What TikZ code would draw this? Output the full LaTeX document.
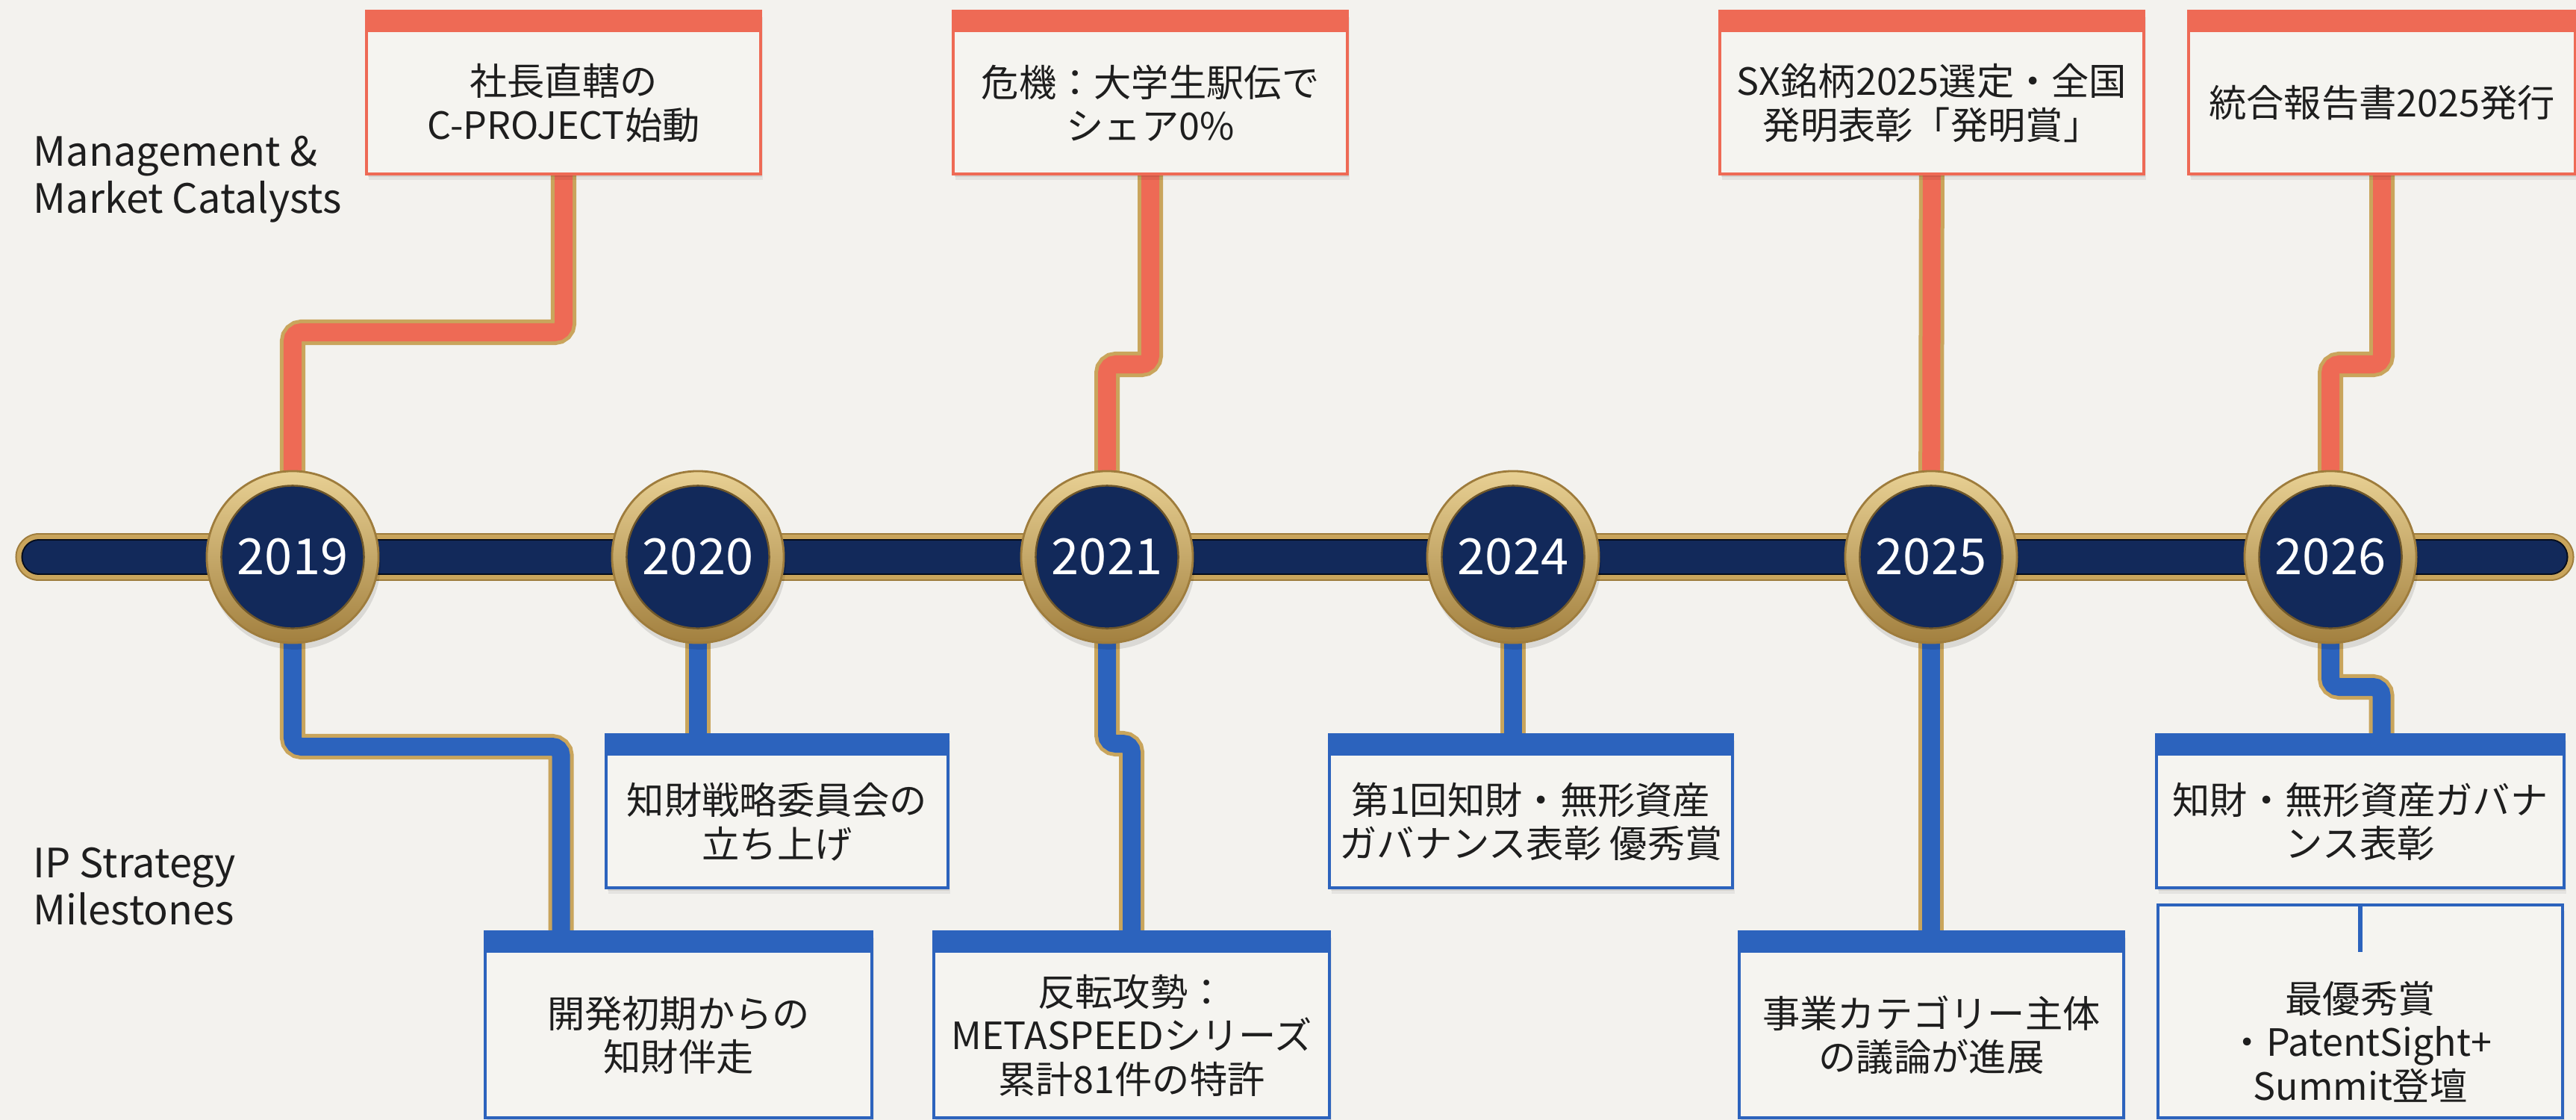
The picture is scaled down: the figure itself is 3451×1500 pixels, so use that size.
\documentclass[tikz,border=0pt]{standalone}
\usepackage{fontspec}
\setmainfont{Noto Sans CJK JP}
\usetikzlibrary{calc,shadows}
\definecolor{bgc}{HTML}{F3F2EE}
\definecolor{boxc}{HTML}{F5F4F0}
\definecolor{redc}{HTML}{EE6A55}
\definecolor{bluec}{HTML}{2C63BD}
\definecolor{navy}{HTML}{12295A}
\definecolor{goldc}{HTML}{C9A55C}
\definecolor{goldlight}{HTML}{E8D093}
\definecolor{golddark}{HTML}{9E7C3C}
\definecolor{textc}{HTML}{1E1E1E}
\pgfdeclarelayer{back}
\pgfdeclarelayer{bg}
\pgfsetlayers{back,bg,main}
\tikzset{
  softshadow/.style={
    general shadow={shadow xshift=0.9pt, shadow yshift=-2.2pt, fill=black, opacity=0.06},
    general shadow={shadow xshift=0.5pt, shadow yshift=-1.1pt, fill=black, opacity=0.08}},
  box/.style={rectangle, fill=boxc, line width=1.3pt, inner sep=0pt, softshadow},
  topbox/.style={box, draw=redc, path picture={\fill[redc] (path picture bounding box.north west) rectangle ([yshift=-0.28cm]path picture bounding box.north east);}},
  botbox/.style={box, draw=bluec, path picture={\fill[bluec] (path picture bounding box.north west) rectangle ([yshift=-0.28cm]path picture bounding box.north east);}},
  plainbox/.style={box, draw=bluec},
  txt/.style={align=center, inner sep=0pt, text=textc, font=\fontsize{14.3}{16.6}\selectfont},
  lbl/.style={align=left, anchor=west, inner sep=0pt, text=textc, font=\fontsize{15.4}{17.8}\selectfont},
  year/.style={circle, minimum size=2.30cm, inner sep=0pt, top color=goldlight, bottom color=golddark!90!goldc,
    draw=golddark, line width=0.8pt, text=white, font=\fontsize{19}{19}\selectfont,
    general shadow={shadow xshift=0.8pt, shadow yshift=-2.5pt, fill=black, opacity=0.10},
    path picture={\filldraw[fill=navy, draw=golddark!70!black, line width=0.7pt] (path picture bounding box.center) circle (0.955cm);}},
  redconn/.style={draw=redc, line width=0.24cm, rounded corners=0.12cm, preaction={draw=goldc, line width=0.34cm, rounded corners=0.14cm}},
  blueconn/.style={draw=bluec, line width=0.24cm, rounded corners=0.12cm, preaction={draw=goldc, line width=0.34cm, rounded corners=0.14cm}},
}
\begin{document}
\begin{tikzpicture}[x=0.01cm, y=-0.01cm]
\useasboundingbox (0,0) rectangle (3451,1500);
\coordinate (TL) at (52,746);
\coordinate (TR) at (3417,746);
\begin{pgfonlayer}{back}
  \fill[bgc] (0,0) rectangle (3451,1500);
  \draw[golddark, line width=0.63cm, line cap=round] (TL) -- (TR);
  \draw[goldc, line width=0.59cm, line cap=round] (TL) -- (TR);
  \draw[black!70!navy, line width=0.47cm, line cap=round] (TL) -- (TR);
  \draw[navy, line width=0.43cm, line cap=round] (TL) -- (TR);
\end{pgfonlayer}

% side labels
\node[lbl] (Lm) at (44,240) {Management \&\\Market Catalysts};
\node[lbl] (Li) at (44,1187) {IP Strategy\\Milestones};

% top boxes
\node[topbox, minimum width=5.28cm, minimum height=2.18cm] (T1) at (755,124) {};
\node[topbox, minimum width=5.28cm, minimum height=2.18cm] (T2) at (1541,124) {};
\node[topbox, minimum width=5.68cm, minimum height=2.18cm] (T3) at (2588,124) {};
\node[topbox, minimum width=5.18cm, minimum height=2.18cm] (T4) at (3191,124) {};
\node[txt] (T1t) at ($(T1)+(0,14)$) {社長直轄の\\C-PROJECT始動};
\node[txt] (T2t) at ($(T2)+(0,14)$) {危機：大学生駅伝で\\シェア0\%};
\node[txt] (T3t) at ($(T3)+(0,14)$) {SX銘柄2025選定・全国\\発明表彰「発明賞」};
\node[txt] (T4t) at ($(T4)+(0,14)$) {統合報告書2025発行};

% bottom boxes
\node[botbox, minimum width=4.58cm, minimum height=2.05cm] (B1) at (1041,1086.5) {};
\node[botbox, minimum width=5.40cm, minimum height=2.05cm] (B4) at (2051,1086.5) {};
\node[botbox, minimum width=5.46cm, minimum height=2.05cm] (B6) at (3162,1086.5) {};
\node[botbox, minimum width=5.18cm, minimum height=2.49cm] (B2) at (909,1372.5) {};
\node[botbox, minimum width=5.30cm, minimum height=2.49cm] (B3) at (1516,1372.5) {};
\node[botbox, minimum width=5.15cm, minimum height=2.49cm] (B5) at (2587.5,1372.5) {};
\node[plainbox, minimum width=5.42cm, minimum height=2.85cm] (B7) at (3162,1354.5) {};
\node[txt] (B1t) at ($(B1)+(0,14)$) {知財戦略委員会の\\立ち上げ};
\node[txt] (B4t) at ($(B4)+(0,14)$) {第1回知財・無形資産\\ガバナンス表彰 優秀賞};
\node[txt] (B6t) at ($(B6)+(0,14)$) {知財・無形資産ガバナ\\ンス表彰};
\node[txt] (B2t) at ($(B2)+(0,14)$) {開発初期からの\\知財伴走};
\node[txt] (B3t) at ($(B3)+(0,14)$) {反転攻勢：\\METASPEEDシリーズ\\累計81件の特許};
\node[txt] (B5t) at ($(B5)+(0,14)$) {事業カテゴリー主体\\の議論が進展};
\node[txt] (B7t) at (3162,1395) {最優秀賞\\・PatentSight+\\Summit登壇};
\draw[bluec, line width=1.8pt] (B7.north) -- ($(B7.north)+(0,65)$);

% year circles
\node[year] (Y19) at (392,746) {2019};
\node[year] (Y20) at (935,746) {2020};
\node[year] (Y21) at (1483,746) {2021};
\node[year] (Y24) at (2027,746) {2024};
\node[year] (Y25) at (2587,746) {2025};
\node[year] (Y26) at (3122,746) {2026};

\coordinate (d1) at ($(B2.north west)+(104,0)$);
\coordinate (d6) at ($(B6.north west)+(304,0)$);

\begin{pgfonlayer}{bg}
  \draw[redconn] (T1.center) -- (T1.center |- 0,445) -- (Y19.center |- 0,445) -- (Y19.center);
  \draw[redconn] (T2.center) -- (T2.center |- 0,488) -- (Y21.center |- 0,488) -- (Y21.center);
  \draw[redconn] (T3.center) -- (Y25.center);
  \draw[redconn] (T4.center) -- (T4.center |- 0,488) -- (Y26.center |- 0,488) -- (Y26.center);
  \draw[blueconn] (Y19.center) -- (Y19.center |- 0,1000) -- (d1 |- 0,1000) -- ($(d1)+(0,40)$);
  \draw[blueconn] (Y20.center) -- (Y20.center |- B1.center);
  \draw[blueconn] (Y21.center) -- (Y21.center |- 0,996) -- (B3.center |- 0,996) -- (B3.center);
  \draw[blueconn] (Y24.center) -- (Y24.center |- B4.center);
  \draw[blueconn] (Y25.center) -- (Y25.center |- B5.center);
  \draw[blueconn] (Y26.center) -- (Y26.center |- 0,920) -- (d6 |- 0,920) -- ($(d6)+(0,40)$);
\end{pgfonlayer}
\end{tikzpicture}
\end{document}
